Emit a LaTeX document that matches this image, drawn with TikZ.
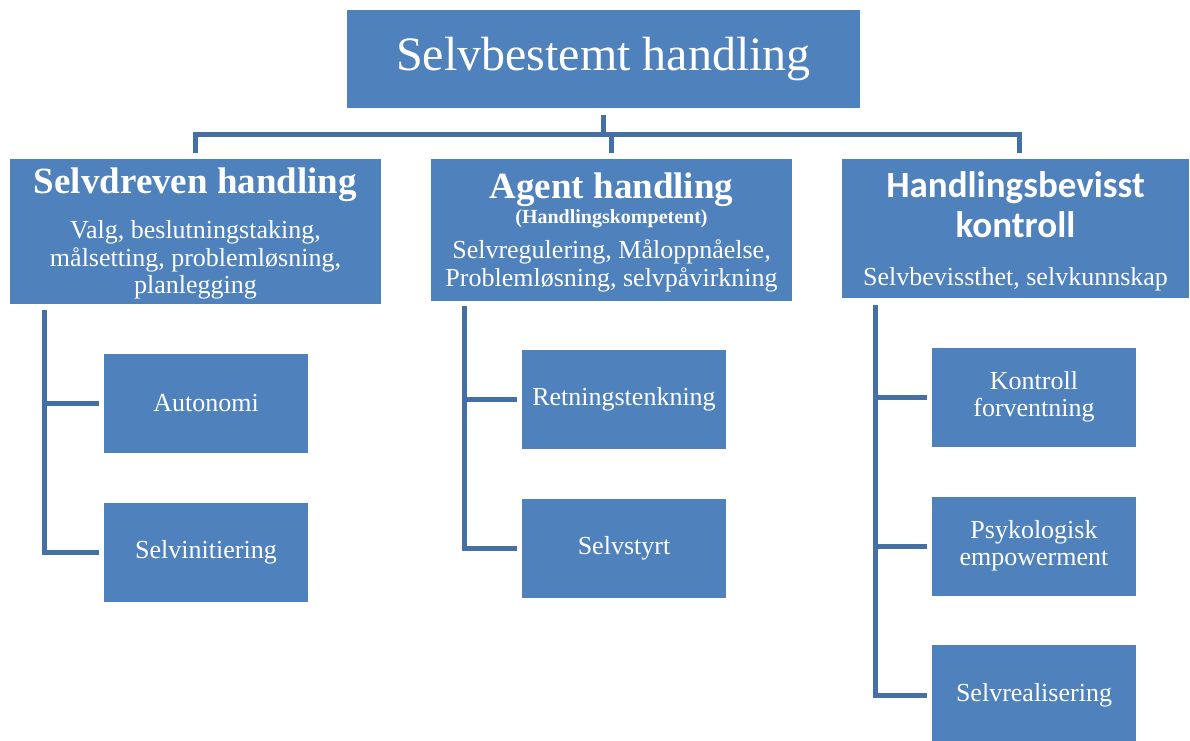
\documentclass[tikz,border=0pt]{standalone}
\usepackage{fontspec}
\setmainfont{Liberation Serif}
\newfontfamily\calibri{Carlito}
\definecolor{boxblue}{HTML}{4F81BD}
\definecolor{lineblue}{HTML}{4470A6}
\tikzset{
  box/.style={fill=boxblue, draw=none, inner sep=0pt, text=white, align=center},
  subbox/.style={box, minimum width=204pt, minimum height=99pt, font=\fontsize{26}{27}\selectfont},
  txt/.style={inner sep=0pt, anchor=base, text=white},
  ttl/.style={txt, font=\fontsize{37}{40}\selectfont\bfseries},
  body/.style={txt, font=\fontsize{26}{28}\selectfont},
  conn/.style={draw=lineblue, line width=5pt, line join=miter},
}
\begin{document}
\begin{tikzpicture}[x=1pt,y=-1pt]
\useasboundingbox (0,0) rectangle (1190,740);
% top
\node[box, minimum width=513pt, minimum height=98pt, font=\fontsize{48}{55}\selectfont] (top) at (603.5,59) {Selvbestemt handling};
% level boxes
\node[box, minimum width=371pt, minimum height=145pt] (sd) at (195.5,231.5) {};
\node[box, minimum width=361pt, minimum height=142pt] (ag) at (611.5,230) {};
\node[box, minimum width=347pt, minimum height=139pt] (hb) at (1015.5,228.5) {};
% texts left
\node[ttl] (sdt) at (195.5,193) {Selvdreven handling};
\node[body] (sd1) at (195.5,238) {Valg, beslutningstaking,};
\node[body] (sd2) at (195.5,266) {målsetting, problemløsning,};
\node[body] (sd3) at (195.5,293) {planlegging};
% texts middle
\node[ttl] (agt) at (611.5,198) {Agent handling};
\node[txt, font=\fontsize{20}{22}\selectfont\bfseries] (agk) at (611.5,223) {(Handlingskompetent)};
\node[body] (ag1) at (611.5,258) {Selvregulering, Måloppnåelse,};
\node[body] (ag2) at (611.5,286) {Problemløsning, selvpåvirkning};
% texts right
\node[txt, font=\fontsize{37}{40}\selectfont\calibri\bfseries] (hb1) at (1015.5,197) {Handlingsbevisst};
\node[txt, font=\fontsize{37}{40}\selectfont\calibri\bfseries] (hb2) at (1015.5,237) {kontroll};
\node[body] (hb3) at (1015.5,285) {Selvbevissthet, selvkunnskap};
% sub boxes
\node[subbox] (auto) at (206,403) {Autonomi};
\node[subbox] (sinit) at (206,552) {Selvinitiering};
\node[subbox] (ret) at (624,399.5) {Retningstenkning};
\node[subbox] (sst) at (624,548.5) {Selvstyrt};
\node[subbox] (kf) at (1034,397) {Kontroll\\forventning};
\node[subbox] (pe) at (1034,546) {Psykologisk\\empowerment};
\node[subbox, minimum height=100pt] (sr) at (1034,695) {Selvrealisering};
% top connectors
\coordinate (bus) at (604,134.5);
\draw[conn] ([yshift=-7pt]top.south) -- (top.south |- bus);
\draw[conn] ([yshift=6pt]sd.north) -- (sd.north |- bus) -- ([xshift=3.5pt]hb.north |- bus) -- ([xshift=3.5pt,yshift=6pt]hb.north);
\draw[conn] ([yshift=6pt]ag.north) -- (ag.north |- bus);
% left subtree
\coordinate (sdv) at (44,310);
\draw[conn] (sdv) |- ([xshift=-5pt]sinit.west);
\draw[conn] (sdv |- auto.west) -- ([xshift=-5pt]auto.west);
% middle subtree
\coordinate (agv) at (464,306);
\draw[conn] (agv) |- ([xshift=-5pt]sst.west);
\draw[conn] (agv |- ret.west) -- ([xshift=-5pt]ret.west);
% right subtree
\coordinate (hbv) at (875,305);
\draw[conn] (hbv) |- ([xshift=-5pt]sr.west);
\draw[conn] (hbv |- kf.west) -- ([xshift=-5pt]kf.west);
\draw[conn] (hbv |- pe.west) -- ([xshift=-5pt]pe.west);
\end{tikzpicture}
\end{document}
